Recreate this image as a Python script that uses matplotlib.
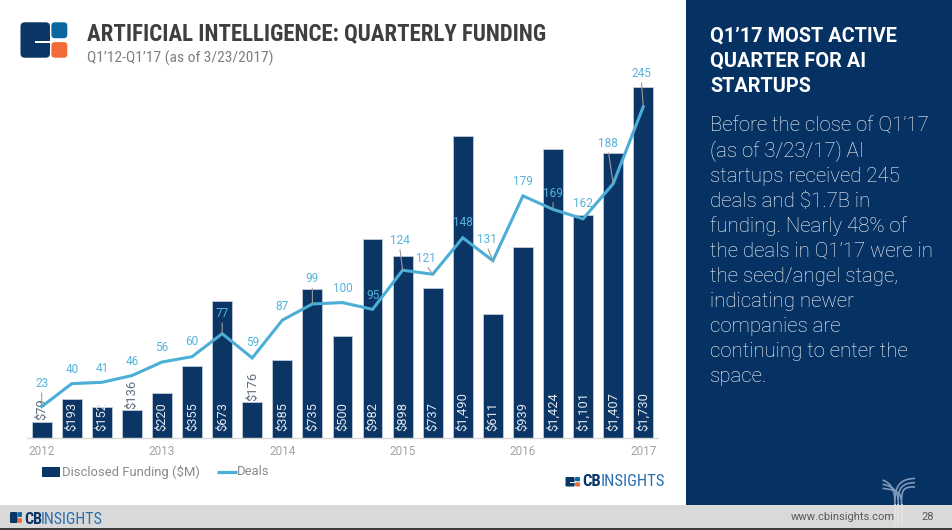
import matplotlib
matplotlib.use('Agg')
import matplotlib.pyplot as plt
from matplotlib import font_manager
from matplotlib.patches import Rectangle, FancyBboxPatch
from matplotlib.path import Path
from matplotlib.patches import PathPatch

# ---------------- data ----------------
quarters = ["Q1'12", "Q2'12", "Q3'12", "Q4'12",
            "Q1'13", "Q2'13", "Q3'13", "Q4'13",
            "Q1'14", "Q2'14", "Q3'14", "Q4'14",
            "Q1'15", "Q2'15", "Q3'15", "Q4'15",
            "Q1'16", "Q2'16", "Q3'16", "Q4'16",
            "Q1'17"]
funding = [79, 193, 152, 136, 220, 355, 673, 176, 385, 735, 500,
           982, 898, 737, 1490, 611, 939, 1424, 1101, 1407, 1730]
deals = [23, 40, 41, 46, 56, 60, 77, 59, 87, 99, 100,
         95, 124, 121, 148, 131, 179, 169, 162, 188, 245]
year_labels = ['2012', '2013', '2014', '2015', '2016', '2017']
year_quarters = ["Q1'12", "Q1'13", "Q1'14", "Q1'15", "Q1'16", "Q1'17"]

title = 'ARTIFICIAL INTELLIGENCE: QUARTERLY FUNDING'
subtitle = 'Q1\u201912-Q1\u201917 (as of 3/23/2017)'
panel_head = ['Q1\u201917 MOST ACTIVE', 'QUARTER FOR AI', 'STARTUPS']
panel_body = ['Before the close of Q1\u201917',
              '(as of 3/23/17) AI',
              'startups received 245',
              'deals and $1.7B in',
              'funding. Nearly 48% of',
              'the deals in Q1\u201917 were in',
              'the seed/angel stage,',
              'indicating newer',
              'companies are',
              'continuing to enter the',
              'space.']

# ---------------- style ----------------
avail = {f.name for f in font_manager.fontManager.ttflist}
COND = 'Roboto Condensed' if 'Roboto Condensed' in avail else 'Roboto'
BASE = 'Roboto'
plt.rcParams['font.family'] = [BASE, 'DejaVu Sans']
FC = [COND, 'DejaVu Sans']
FR = [BASE, 'DejaVu Sans']

NAVY = '#0a3565'
PANEL = '#063263'
LINE = '#4aaed7'
LBLUE = '#56b3dc'
GREY_TXT = '#a3a3a3'

W, H = 952, 530
fig = plt.figure(figsize=(W / 100, H / 100), dpi=100)
fig.patch.set_facecolor('white')

bg = fig.add_axes([0, 0, 1, 1], zorder=0)
bg.set_xlim(0, W)
bg.set_ylim(H, 0)
bg.axis('off')

renderer = fig.canvas.get_renderer()


def fit(t, target):
    w = t.get_window_extent(renderer=renderer).width
    t.set_fontsize(t.get_fontsize() * target / w)
    return t


def logo(x0, y0, w, h):
    bg.add_patch(FancyBboxPatch((x0, y0), 0.63 * w, h,
                                boxstyle='round,pad=0,rounding_size=%f' % (0.12 * h),
                                fc=NAVY, ec='none'))
    bg.add_patch(Rectangle((x0 + 0.31 * w, y0 + 0.52 * h), 0.33 * w, 0.06 * h,
                           fc='white', ec='none'))
    bg.add_patch(FancyBboxPatch((x0 + 0.66 * w, y0), 0.34 * w, 0.45 * h,
                                boxstyle='round,pad=0,rounding_size=%f' % (0.1 * h),
                                fc='#0b67a0', ec='none'))
    bg.add_patch(FancyBboxPatch((x0 + 0.66 * w, y0 + 0.56 * h), 0.34 * w, 0.44 * h,
                                boxstyle='round,pad=0,rounding_size=%f' % (0.1 * h),
                                fc='#f26a35', ec='none'))


def brand(x0, y_base, target_w, fs):
    t1 = bg.text(x0, y_base, 'CB', fontfamily=FC, fontweight='bold',
                 fontsize=fs, color=NAVY, va='baseline', ha='left')
    t2 = bg.text(x0, y_base, 'INSIGHTS', fontfamily=FC,
                 fontsize=fs, color='#2a6fae', va='baseline', ha='left')
    w1 = t1.get_window_extent(renderer=renderer).width
    w2 = t2.get_window_extent(renderer=renderer).width
    s = target_w / (w1 + w2)
    t1.set_fontsize(fs * s)
    t2.set_fontsize(fs * s)
    t2.set_x(x0 + w1 * s - 0.8)


# right panel and footer
bg.add_patch(Rectangle((686, 0), W - 686, 505, fc=PANEL, ec='none'))
bg.add_patch(Rectangle((0, 505), W, 23, fc='#d9d9d9', ec='none'))
bg.add_patch(Rectangle((0, 527.5), W, 3, fc='#3c3c3c', ec='none'))

# decorative Y mark in panel corner
for k in range(3):
    sx = 895 + 3.3 * k
    p = Path([(882.5, 480 + 4.2 * k), (sx - 1, 484 + 3 * k), (sx, 495), (sx, 505)],
             [Path.MOVETO, Path.CURVE4, Path.CURVE4, Path.CURVE4])
    bg.add_patch(PathPatch(p, fc='none', ec='#8199b8', lw=1.2))
    p = Path([(915, 478.5 + 4.2 * k), (sx + 4, 478.5 + 4.2 * k), (sx, 488), (sx, 500)],
             [Path.MOVETO, Path.CURVE4, Path.CURVE4, Path.CURVE4])
    bg.add_patch(PathPatch(p, fc='none', ec='#8199b8', lw=1.2))
    bg.plot([sx, sx], [505, 526], color='#e4e4e4', lw=1.2)

# logo + title
logo(20.5, 22.3, 46.8, 35.4)
t = bg.text(87, 40, title, fontfamily=FC, fontweight='bold',
            fontsize=15, color='#3f3f3f', va='baseline', ha='left')
fit(t, 462)
t = bg.text(87, 62.5, subtitle, fontfamily=FC, fontsize=9.5,
            color='#7f7f7f', va='baseline', ha='left')
fit(t, 187)

# panel text
head_fs = None
for k, line in enumerate(panel_head):
    t = bg.text(710, 41.7 + 25 * k, line, fontweight='bold', fontsize=13.5,
                color='white', va='baseline', ha='left')
    if head_fs is None:
        fit(t, 187)
        head_fs = t.get_fontsize()
    else:
        t.set_fontsize(head_fs)
body = []
for k, line in enumerate(panel_body):
    t = bg.text(710, 131.7 + 25 * k, line, fontweight='light', fontsize=13.5,
                color='white', va='baseline', ha='left')
    body.append(t)
fit(body[5], 222)
for tx in body:
    tx.set_fontsize(body[5].get_fontsize())

# legend (manual)
bg.add_patch(Rectangle((41.7, 466.5), 18.5, 10.5, fc=NAVY, ec='none'))
t = bg.text(62.5, 471.7, 'Disclosed Funding ($M)', fontfamily=FR,
            fontsize=8.7, color='#8a8a8a', va='center', ha='left')
fit(t, 137)
bg.plot([216.5, 236.5], [471.7, 471.7], color=LINE, lw=2.3, solid_capstyle='butt')
bg.text(237, 471.7, 'Deals', fontfamily=FR,
        fontsize=t.get_fontsize(), color='#8a8a8a', va='center', ha='left')

# brand marks
logo(565.5, 477, 14.5, 9.5)
brand(582.5, 486, 83, 11.5)
logo(10, 512, 12, 11)
brand(24, 523.5, 80, 10)
bg.text(895, 517, 'www.cbinsights.com', fontsize=8, color='#5a5a5a',
        va='center', ha='right')
bg.text(928, 517, '28', fontsize=8, color='#5a5a5a', va='center', ha='center')

# ---------------- chart ----------------
px_left, px_right = 26.66, 658.3
px_base, px_top = 437.7, 70.0
ax = fig.add_axes([px_left / W, 1 - px_base / H,
                   (px_right - px_left) / W, (px_base - px_top) / H], zorder=1)
ax.set_facecolor('none')
x = list(range(len(quarters)))
ax.bar(x, funding, width=0.66, color=NAVY, edgecolor='#c3ccd9', linewidth=0.6, zorder=2)
ax.set_xlim(-0.5, len(quarters) - 0.5)
ax.set_ylim(0, (px_base - px_top) / 0.2027)
for s in ['top', 'left', 'right']:
    ax.spines[s].set_visible(False)
ax.spines['bottom'].set_color('#d9d9d9')
ax.spines['bottom'].set_linewidth(1.0)
ax.set_yticks([])
ax.set_xticks([quarters.index(q) for q in year_quarters])
ax.set_xticklabels(year_labels)
ax.tick_params(axis='x', length=0, pad=5.5, labelsize=8.5, labelcolor=GREY_TXT)
for lab in ax.get_xticklabels():
    lab.set_fontfamily(FR)

outside = {0, 3, 7}
for i, v in enumerate(funding):
    lab = '${:,}'.format(v)
    if i in outside:
        ax.annotate(lab, (i, v), xytext=(0, 1.5), textcoords='offset pixels',
                    rotation=90, ha='center', va='bottom', fontsize=9.3,
                    fontfamily=FR, color='#5f6d7d', zorder=3)
    else:
        ax.annotate(lab, (i, 0), xytext=(0, 7), textcoords='offset pixels',
                    rotation=90, ha='center', va='bottom', fontsize=9.3,
                    fontfamily=FR, color='#e3e8ee', zorder=3)

ax2 = ax.twinx()
ax2.set_zorder(2)
ax2.set_facecolor('none')
ax2.set_ylim(0, (px_base - px_top) / 1.351)
ax2.axis('off')
ax2.plot(x, deals, color=LINE, lw=2.2, solid_joinstyle='miter', zorder=4)

# label offsets in pixels (dx, dy) relative to each point
offsets = [(0, 23), (0, 14), (0, 14), (0, 14), (0, 15), (0, 15), (0, 20), (0, 15),
           (0, 14), (0, 25), (0, 14), (0, 14), (-3, 30), (-7, 16), (0, 15),
           (-6, 21), (0, 14), (0, 16), (0, 15), (-5, 40), (-2, 33)]
leader = {0, 6, 9, 12, 13, 15, 17, 19, 20}
for i, v in enumerate(deals):
    dx, dy = offsets[i]
    kw = {}
    if i in leader:
        kw['arrowprops'] = dict(arrowstyle='-', color='#9b9b9b', lw=0.8,
                                shrinkA=0, shrinkB=0, relpos=(0.5, 0))
    ax2.annotate(str(v), (i, v), xytext=(dx, dy), textcoords='offset pixels',
                 ha='center', va='center', fontsize=8.5,
                 fontfamily=FR, color=LBLUE, zorder=5, **kw)

fig.savefig('out.png', dpi=100, facecolor='white')
